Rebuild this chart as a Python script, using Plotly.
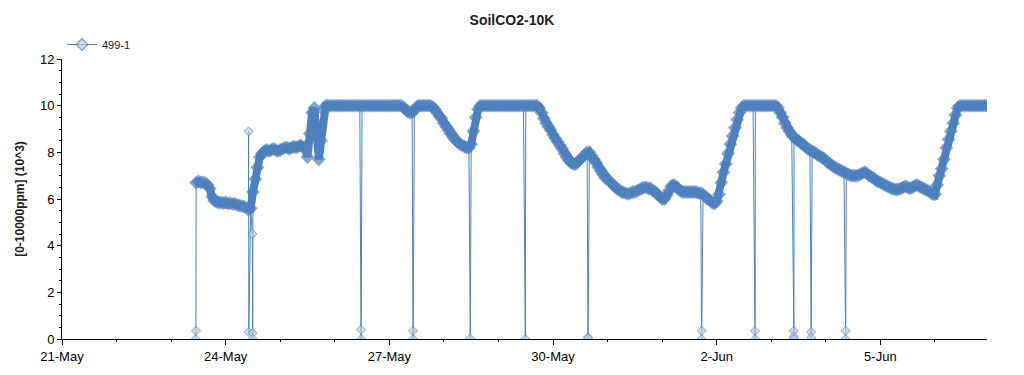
import pandas as pd
import plotly.graph_objects as go

# ---------------- data ----------------
series_name = "499-1"
hourly_start = "2013-05-23 11:00"

co2_2305 = [6.70, 6.75, 6.70, 6.72, 6.68, 6.60, 6.45, 6.10, 5.92, 5.88, 5.85, 5.85, 5.82]
co2_2405 = [5.85, 5.80, 5.82, 5.78, 5.80, 5.75, 5.72, 5.70, 5.68, 5.62, 5.55, 5.60,
            6.30, 6.85, 7.35, 7.80, 7.95, 8.05, 8.10, 8.05, 8.10, 8.15, 8.10, 8.05]
co2_2505 = [8.10, 8.15, 8.20, 8.20, 8.15, 8.20, 8.25, 8.20, 8.25, 8.30, 8.20, 8.25,
            7.80, 8.80, 9.70, 9.90, 8.90, 7.70, 8.50, 9.80, 10.0, 10.0, 10.0, 10.0]
co2_2605 = [10.0] * 24
co2_2705 = [10.0, 10.0, 10.0, 10.0, 10.0, 10.0, 9.95, 9.85, 9.75, 9.70, 9.70, 9.80,
            9.95, 10.0, 10.0, 10.0, 10.0, 10.0, 10.0, 9.95, 9.85, 9.70, 9.55, 9.45]
co2_2805 = [9.25, 9.10, 8.95, 8.80, 8.65, 8.55, 8.45, 8.35, 8.30, 8.25, 8.20, 8.20,
            8.35, 8.90, 9.50, 9.85, 10.0, 10.0, 10.0, 10.0, 10.0, 10.0, 10.0, 10.0]
co2_2905 = [10.0, 10.0, 10.0, 10.0, 10.0, 10.0, 10.0, 10.0, 10.0, 10.0, 10.0, 10.0,
            10.0, 10.0, 10.0, 10.0, 10.0, 10.0, 9.90, 9.70, 9.45, 9.25, 9.10, 8.95]
co2_3005 = [8.75, 8.60, 8.45, 8.30, 8.15, 7.95, 7.80, 7.65, 7.55, 7.50, 7.50, 7.60,
            7.70, 7.80, 7.90, 8.00, 8.00, 7.85, 7.70, 7.55, 7.35, 7.20, 7.05, 6.90]
co2_3105 = [6.85, 6.75, 6.65, 6.55, 6.45, 6.40, 6.30, 6.28, 6.25, 6.22, 6.25, 6.30,
            6.30, 6.35, 6.40, 6.45, 6.50, 6.50, 6.45, 6.45, 6.35, 6.30, 6.20, 6.10]
co2_0106 = [6.00, 6.00, 6.15, 6.35, 6.55, 6.60, 6.55, 6.45, 6.35, 6.30, 6.30, 6.30,
            6.30, 6.30, 6.30, 6.30, 6.25, 6.25, 6.20, 6.10, 6.00, 5.95, 5.85, 5.80]
co2_0206 = [5.90, 6.20, 6.70, 7.15, 7.50, 7.95, 8.35, 8.70, 9.05, 9.40, 9.70, 9.90,
            10.0, 10.0, 10.0, 10.0, 10.0, 10.0, 10.0, 10.0, 10.0, 10.0, 10.0, 10.0]
co2_0306 = [10.0, 10.0, 10.0, 9.90, 9.70, 9.50, 9.25, 9.05, 8.90, 8.75, 8.65, 8.55,
            8.50, 8.40, 8.35, 8.25, 8.15, 8.10, 8.05, 8.00, 7.92, 7.85, 7.80, 7.75]
co2_0406 = [7.65, 7.55, 7.50, 7.42, 7.35, 7.30, 7.25, 7.20, 7.15, 7.10, 7.05, 7.00,
            7.00, 7.00, 7.00, 7.05, 7.10, 7.15, 7.10, 7.00, 6.95, 6.90, 6.80, 6.75]
co2_0506 = [6.70, 6.65, 6.60, 6.55, 6.50, 6.45, 6.42, 6.40, 6.42, 6.45, 6.50, 6.55,
            6.50, 6.45, 6.50, 6.55, 6.60, 6.55, 6.50, 6.45, 6.40, 6.35, 6.30, 6.20]
co2_0606 = [6.20, 6.60, 7.00, 7.30, 7.70, 8.20, 8.55, 8.90, 9.25, 9.60, 9.90, 10.0,
            10.0, 10.0, 10.0, 10.0, 10.0, 10.0, 10.0, 10.0, 10.0, 10.0, 10.0, 10.0]

dropout_times = ["2013-05-23 10:50", "2013-05-23 10:55",
                 "2013-05-24 10:05", "2013-05-24 10:10",
                 "2013-05-24 11:45", "2013-05-24 11:50", "2013-05-24 11:55",
                 "2013-05-26 11:30", "2013-05-26 11:35",
                 "2013-05-27 10:24", "2013-05-27 10:28",
                 "2013-05-28 11:36",
                 "2013-05-29 11:48",
                 "2013-05-30 15:22", "2013-05-30 15:26",
                 "2013-06-01 17:20", "2013-06-01 17:24",
                 "2013-06-02 16:50", "2013-06-02 16:54",
                 "2013-06-03 09:50", "2013-06-03 09:54", "2013-06-03 09:58",
                 "2013-06-03 17:30", "2013-06-03 17:34",
                 "2013-06-04 08:40", "2013-06-04 08:44"]
dropout_values = [0.0, 0.35,
                  8.9, 0.3,
                  4.5, 0.25, 0.0,
                  0.4, 0.0,
                  0.35, 0.0,
                  0.02,
                  0.0,
                  0.08, 0.03,
                  0.35, 0.0,
                  0.35, 0.0,
                  0.35, 0.1, 0.0,
                  0.3, 0.05,
                  0.35, 0.0]

x_range = ["2013-05-21 00:00", "2013-06-06 22:54"]
y_range = [0, 12]
title_text = "SoilCO2-10K"
y_title = "[0-10000ppm] (10^3)"

# ---------------- assemble ----------------
hourly_vals = (co2_2305 + co2_2405 + co2_2505 + co2_2605 + co2_2705 + co2_2805 + co2_2905 +
               co2_3005 + co2_3105 + co2_0106 + co2_0206 + co2_0306 + co2_0406 + co2_0506 + co2_0606)
hourly_times = pd.date_range(hourly_start, periods=len(hourly_vals), freq="h")

df = pd.concat([
    pd.DataFrame({"t": pd.to_datetime(dropout_times), "v": dropout_values, "kind": "drop"}),
    pd.DataFrame({"t": hourly_times, "v": hourly_vals, "kind": "main"}),
]).sort_values("t", kind="stable").reset_index(drop=True)

LINE = "#4f81bd"
FILL = "#b9cde5"
FONT = "Liberation Sans, Arial, sans-serif"

is_main = [k == "main" for k in df["kind"]]
m_color = [LINE if m else FILL for m in is_main]
m_size = [9 if m else 7 for m in is_main]
m_lw = [1.5 if m else 1.0 for m in is_main]

fig = go.Figure()
# dense-reading band underneath the logged points (same hourly readings, thick stroke)
fig.add_trace(go.Scatter(
    x=hourly_times, y=hourly_vals, mode="lines", showlegend=False, hoverinfo="skip",
    line=dict(color=LINE, width=8),
))
fig.add_trace(go.Scatter(
    x=df["t"], y=df["v"], mode="lines+markers", name=series_name,
    line=dict(color=LINE, width=1),
    marker=dict(symbol="diamond", size=m_size, color=m_color, line=dict(color=LINE, width=m_lw)),
))

DAY = 86400000
axis_common = dict(showgrid=False, zeroline=False, showline=True, linecolor="black", linewidth=1,
                   tickcolor="black", tickwidth=1)

fig.update_layout(
    width=1024, height=375,
    margin=dict(l=62, r=37, t=59, b=36),
    paper_bgcolor="white", plot_bgcolor="white",
    font=dict(family=FONT, size=13, color="black"),
    title=dict(text=f"<b>{title_text}</b>", x=0.5, xref="container", xanchor="center",
               y=1 - 20 / 375, yref="container", yanchor="middle",
               font=dict(family=FONT, size=14, color="#222")),
    showlegend=True,
    legend=dict(x=0.0, y=1.0, xanchor="left", yanchor="bottom", orientation="h",
                font=dict(family=FONT, size=11, color="#222"), bgcolor="rgba(0,0,0,0)"),
    xaxis=dict(type="date", range=x_range, tick0="2013-05-21", dtick=3 * DAY,
               tickformat="%-d-%b", ticks="outside", ticklen=5,
               minor=dict(dtick=DAY, tick0="2013-05-21", ticks="outside", ticklen=2, tickcolor="black"),
               **axis_common),
    xaxis2=dict(type="date", range=x_range, overlaying="x", anchor="y", side="bottom",
                tick0="2013-05-21", dtick=3 * DAY, ticks="inside", ticklen=6, showticklabels=False,
                minor=dict(dtick=DAY, tick0="2013-05-21", ticks="inside", ticklen=3, tickcolor="black"),
                mirror="ticks", **axis_common),
    yaxis=dict(range=y_range, dtick=2, ticks="outside", ticklen=4,
               minor=dict(dtick=0.5, ticks="outside", ticklen=2, tickcolor="black"),
               title=dict(text=f"<b>{y_title}</b>", font=dict(family=FONT, size=12, color="#222"), standoff=12),
               **axis_common),
    yaxis2=dict(range=y_range, overlaying="y", anchor="x", side="left", dtick=2,
                ticks="inside", ticklen=4, showticklabels=False,
                minor=dict(dtick=0.5, ticks="inside", ticklen=2, tickcolor="black"),
                mirror="ticks", **axis_common),
)

fig.write_html("out.html", config={"displayModeBar": False},
               post_script="document.body.style.margin='0';")
